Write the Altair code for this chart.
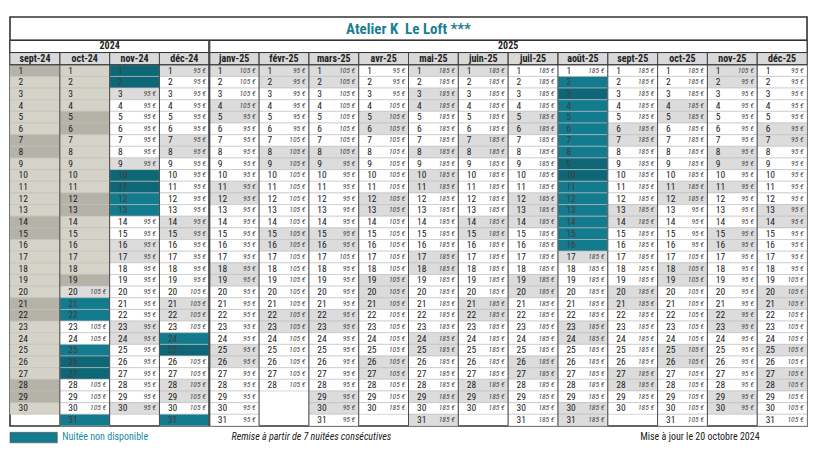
import datetime as dt
import altair as alt
import pandas as pd

TITLE = "Atelier K\u00a0\u00a0Le Loft ***"
YEARS = ["2024", "2025"]
YEAR_COL_START = [0, 4]
YEAR_COL_END = [4, 16]
MONTHS = ["sept-24", "oct-24", "nov-24", "déc-24", "janv-25", "févr-25", "mars-25", "avr-25",
          "mai-25", "juin-25", "juil-25", "août-25", "sept-25", "oct-25", "nov-25", "déc-25"]
MONTH_YEAR = [2024, 2024, 2024, 2024, 2025, 2025, 2025, 2025, 2025, 2025, 2025, 2025, 2025, 2025, 2025, 2025]
MONTH_NUM = [9, 10, 11, 12, 1, 2, 3, 4, 5, 6, 7, 8, 9, 10, 11, 12]
DAYS_IN_MONTH = [30, 31, 30, 31, 31, 28, 31, 30, 31, 30, 31, 31, 30, 31, 30, 31]
LAST_PAST_DAY = dt.date(2024, 10, 19)
HOLIDAYS = [dt.date(2024, 11, 1), dt.date(2024, 11, 11), dt.date(2024, 12, 25), dt.date(2025, 1, 1),
            dt.date(2025, 4, 21), dt.date(2025, 5, 1), dt.date(2025, 5, 8), dt.date(2025, 5, 29),
            dt.date(2025, 7, 14), dt.date(2025, 8, 15), dt.date(2025, 11, 1), dt.date(2025, 11, 11),
            dt.date(2025, 12, 25)]
UNAVAILABLE = {
    "oct-24": [21, 22, 25, 26, 27, 31],
    "nov-24": [1, 2, 10, 11, 12, 13],
    "déc-24": [24, 25, 31],
    "août-25": [2, 3, 4, 5, 6, 7, 8, 9, 10, 11, 12, 13, 14, 15, 16],
}
UNAVAILABLE_DARK = {
    "oct-24": [26, 27],
    "nov-24": [1, 2, 10, 11],
    "déc-24": [25],
    "août-25": [3, 9, 10],
}
N = None
PRICES = {
    "sept-24": [N, N, N, N, N, N, N, N, N, N, N, N, N, N, N, N, N, N, N, N, N, N, N, N, N, N, N, N, N, N],
    "oct-24": [N, N, N, N, N, N, N, N, N, N, N, N, N, N, N, N, N, N, N, 105, N, N, 105, 105, N, N, N, 105, 105, 105, N],
    "nov-24": [N, N, 95, 95, 95, 95, 95, 95, 95, N, N, N, N, 95, 95, 95, 95, 95, 95, 95, 95, 95, 95, 95, 95, 95, 95, 95, 95, 95],
    "déc-24": [95, 95, 95, 95, 95, 95, 95, 95, 95, 95, 95, 95, 95, 95, 95, 95, 95, 95, 95, 105, 105, 105, 105, N, N, 105, 105, 105, 105, 105, N],
    "janv-25": [105, 105, 105, 105, 95, 95, 95, 95, 95, 95, 95, 95, 95, 95, 95, 95, 95, 95, 95, 95, 95, 95, 95, 95, 95, 95, 95, 95, 95, 95, 95],
    "févr-25": [95, 95, 95, 95, 95, 95, 105, 105, 105, 105, 105, 105, 105, 105, 105, 105, 105, 105, 105, 105, 105, 105, 105, 105, 105, 105, 105, 105],
    "mars-25": [105, 105, 105, 105, 105, 105, 105, 105, 95, 95, 95, 95, 95, 95, 95, 95, 105, 95, 95, 95, 95, 95, 95, 95, 95, 95, 95, 95, 95, 95, 95],
    "avr-25": [95, 95, 95, 105, 105, 105, 105, 105, 105, 105, 105, 105, 105, 105, 105, 105, 105, 105, 105, 105, 105, 105, 105, 105, 105, 105, 105, 105, 105, 185],
    "mai-25": [185, 185, 185, 185, 185, 185, 185, 185, 185, 185, 185, 185, 185, 185, 185, 185, 185, 185, 185, 185, 185, 185, 185, 185, 185, 185, 185, 185, 185, 185, 185],
    "juin-25": [185, 185, 185, 185, 185, 185, 185, 185, 185, 185, 185, 185, 185, 185, 185, 185, 185, 185, 185, 185, 185, 185, 185, 185, 185, 185, 185, 185, 185, 185],
    "juil-25": [185, 185, 185, 185, 185, 185, 185, 185, 185, 185, 185, 185, 185, 185, 185, 185, 185, 185, 185, 185, 185, 185, 185, 185, 185, 185, 185, 185, 185, 185, 185],
    "août-25": [185, N, N, N, N, N, N, N, N, N, N, N, N, N, N, N, 185, 185, 185, 185, 185, 185, 185, 185, 185, 185, 185, 185, 185, 185, 185],
    "sept-25": [185, 185, 185, 185, 185, 185, 185, 185, 185, 185, 185, 185, 185, 185, 185, 185, 185, 185, 185, 185, 185, 185, 185, 185, 185, 185, 185, 185, 185, 185],
    "oct-25": [185, 185, 185, 185, 185, 185, 185, 185, 185, 185, 185, 185, 95, 95, 95, 95, 105, 105, 105, 105, 105, 105, 105, 105, 105, 105, 105, 105, 105, 105, 105],
    "nov-25": [105, 95, 95, 95, 95, 95, 95, 95, 95, 95, 95, 95, 95, 95, 95, 95, 95, 95, 95, 95, 95, 95, 95, 95, 95, 95, 95, 95, 95, 95],
    "déc-25": [95, 95, 95, 95, 95, 95, 95, 95, 95, 95, 95, 95, 95, 95, 95, 95, 95, 95, 105, 105, 105, 105, 105, 105, 105, 105, 105, 105, 105, 105, 105],
}
LEGEND_LABEL = "Nuitée non disponible"
NOTE_DISCOUNT = "Remise à partir de 7 nuitées consécutives"
NOTE_UPDATE = "Mise à jour le 20 octobre 2024"

FONT = "Liberation Sans Narrow, Roboto Condensed, DejaVu Sans Condensed, sans-serif"
TEAL = "#127b8d"
TEAL_DARK = "#0d6777"

# ---------------- build tables ----------------
rows = []
for ci, m in enumerate(MONTHS):
    for d in range(1, DAYS_IN_MONTH[ci] + 1):
        date = dt.date(MONTH_YEAR[ci], MONTH_NUM[ci], d)
        weekend = date.weekday() >= 5 or date in HOLIDAYS
        if date <= LAST_PAST_DAY:
            status = "past_we" if weekend else "past"
        elif d in UNAVAILABLE.get(m, []):
            status = "teal_dark" if d in UNAVAILABLE_DARK.get(m, []) else "teal"
        else:
            status = "we" if weekend else "wd"
        price = PRICES[m][d - 1]
        rows.append({
            "month": m, "day": d, "x": ci, "x2": ci + 1, "y": d - 1, "y2": d, "yc": d - 0.5,
            "xn": ci + 0.17, "xp": ci + 0.93, "status": status,
            "num": str(d), "price": "" if price is None else f"{price} €",
            "teal": status.startswith("teal"),
        })
cells = pd.DataFrame(rows)

hdr = pd.DataFrame({"label": MONTHS, "x": list(range(16)), "x2": list(range(1, 17)),
                    "xc": [i + 0.5 for i in range(16)]})
yrs = pd.DataFrame({"label": YEARS, "x": YEAR_COL_START, "x2": YEAR_COL_END,
                    "xc": [(a + b) / 2 for a, b in zip(YEAR_COL_START, YEAR_COL_END)]})

Y_TITLE_TOP, Y_YEAR_TOP, Y_HDR_TOP, Y_BOTTOM = -4.1, -2.1, -1.05, 31

xs = alt.Scale(domain=[-0.0402, 16.12], nice=False, zero=False)
ys = alt.Scale(domain=[-4.873, 32.98], nice=False, zero=False, reverse=True)

def X(f):
    return alt.X(f, type="quantitative", scale=xs, axis=None)

def Y(f):
    return alt.Y(f, type="quantitative", scale=ys, axis=None)

frame = pd.DataFrame({"x": [0], "x2": [16], "y": [Y_TITLE_TOP], "y2": [Y_BOTTOM]})
bg = alt.Chart(frame).mark_rect(fill="white", stroke="#333333", strokeWidth=1.6).encode(
    x=X("x"), x2="x2", y=Y("y"), y2="y2")

status_scale = alt.Scale(domain=["past", "past_we", "teal", "teal_dark", "we", "wd"],
                         range=["#d5d2c8", "#b5b2a8", TEAL, TEAL_DARK, "#dcdcdc", "#ffffff"])
cell_rects = alt.Chart(cells).mark_rect(stroke="#bdbdbd", strokeWidth=0.6).encode(
    x=X("x"), x2="x2", y=Y("y"), y2="y2",
    fill=alt.Fill("status:N", scale=status_scale, legend=None))

hdr_rects = alt.Chart(hdr).mark_rect(fill="#d9d9d9", stroke="#555555", strokeWidth=0.8).encode(
    x=X("x"), x2="x2", y=alt.Y("y:Q", scale=ys, axis=None), y2="y2:Q"
).transform_calculate(y=str(Y_HDR_TOP), y2="0")
hdr_text = alt.Chart(hdr).mark_text(font=FONT, fontSize=10, fontWeight="bold", color="#222222").encode(
    x=X("xc"), y=alt.Y("yy:Q", scale=ys, axis=None), text="label:N"
).transform_calculate(yy=str((Y_HDR_TOP + 0) / 2))

yr_rects = alt.Chart(yrs).mark_rect(fill="white", stroke="#333333", strokeWidth=1).encode(
    x=X("x"), x2="x2", y=alt.Y("y:Q", scale=ys, axis=None), y2="y2:Q"
).transform_calculate(y=str(Y_YEAR_TOP), y2=str(Y_HDR_TOP))
yr_text = alt.Chart(yrs).mark_text(font=FONT, fontSize=10, fontWeight="bold", color="#222222").encode(
    x=X("xc"), y=alt.Y("yy:Q", scale=ys, axis=None), text="label:N"
).transform_calculate(yy=str((Y_YEAR_TOP + Y_HDR_TOP) / 2))

title_line = alt.Chart(pd.DataFrame({"x": [0], "x2": [16], "y": [Y_YEAR_TOP]})).mark_rule(
    color="#333333", strokeWidth=1.6).encode(x=X("x"), x2="x2", y=Y("y"))
title_text = alt.Chart(pd.DataFrame({"t": [TITLE], "x": [8], "y": [(Y_TITLE_TOP + Y_YEAR_TOP) / 2]})).mark_text(
    font=FONT, fontSize=15, fontWeight="bold", color="#1a7f94").encode(x=X("x"), y=Y("y"), text="t:N")

seps = pd.DataFrame({"x": list(range(1, 16)),
                     "y": [Y_HDR_TOP if i != 4 else Y_YEAR_TOP for i in range(1, 16)],
                     "y2": [Y_BOTTOM] * 15,
                     "w": [2.2 if i == 4 else 1.0 for i in range(1, 16)]})
sep_rules = alt.Chart(seps).mark_rule(color="#4a4a4a").encode(
    x=X("x"), y=Y("y"), y2="y2",
    strokeWidth=alt.StrokeWidth("w:Q", scale=None, legend=None))
hdr_bottom = alt.Chart(pd.DataFrame({"x": [0], "x2": [16], "y": [0]})).mark_rule(
    color="#333333", strokeWidth=1.2).encode(x=X("x"), x2="x2", y=Y("y"))

num_text = alt.Chart(cells).mark_text(font=FONT, fontSize=9.5, align="left", baseline="middle").encode(
    x=X("xn"), y=Y("yc"), text="num:N",
    color=alt.condition("datum.teal", alt.value("#4a3a3a"), alt.value("#222222")))
price_text = alt.Chart(cells).mark_text(font=FONT, fontSize=7.5, fontStyle="italic", align="right",
                                        baseline="middle", color="#444444").encode(
    x=X("xp"), y=Y("yc"), text="price:N")

legend_box = alt.Chart(pd.DataFrame({"x": [0], "x2": [0.95], "y": [31.55], "y2": [32.45]})).mark_rect(
    fill=TEAL, stroke="#555555", strokeWidth=0.6).encode(x=X("x"), x2="x2", y=Y("y"), y2="y2")
legend_label = alt.Chart(pd.DataFrame({"t": [LEGEND_LABEL], "x": [1.05], "y": [31.95]})).mark_text(
    font=FONT, fontSize=10, align="left", color="#1a8a9e").encode(x=X("x"), y=Y("y"), text="t:N")
note1 = alt.Chart(pd.DataFrame({"t": [NOTE_DISCOUNT], "x": [6.05], "y": [31.95]})).mark_text(
    font=FONT, fontSize=10, fontStyle="italic", color="#222222").encode(x=X("x"), y=Y("y"), text="t:N")
note2 = alt.Chart(pd.DataFrame({"t": [NOTE_UPDATE], "x": [13.85], "y": [31.95]})).mark_text(
    font=FONT, fontSize=10, color="#222222").encode(x=X("x"), y=Y("y"), text="t:N")

chart = alt.layer(
    bg, cell_rects, hdr_rects, yr_rects, sep_rules, title_line, hdr_bottom,
    hdr_text, yr_text, title_text, num_text, price_text,
    legend_box, legend_label, note1, note2,
).properties(width=805, height=441, padding=0).configure_view(stroke=None)

chart.save("out.html", embed_options={"renderer": "svg", "actions": False})
